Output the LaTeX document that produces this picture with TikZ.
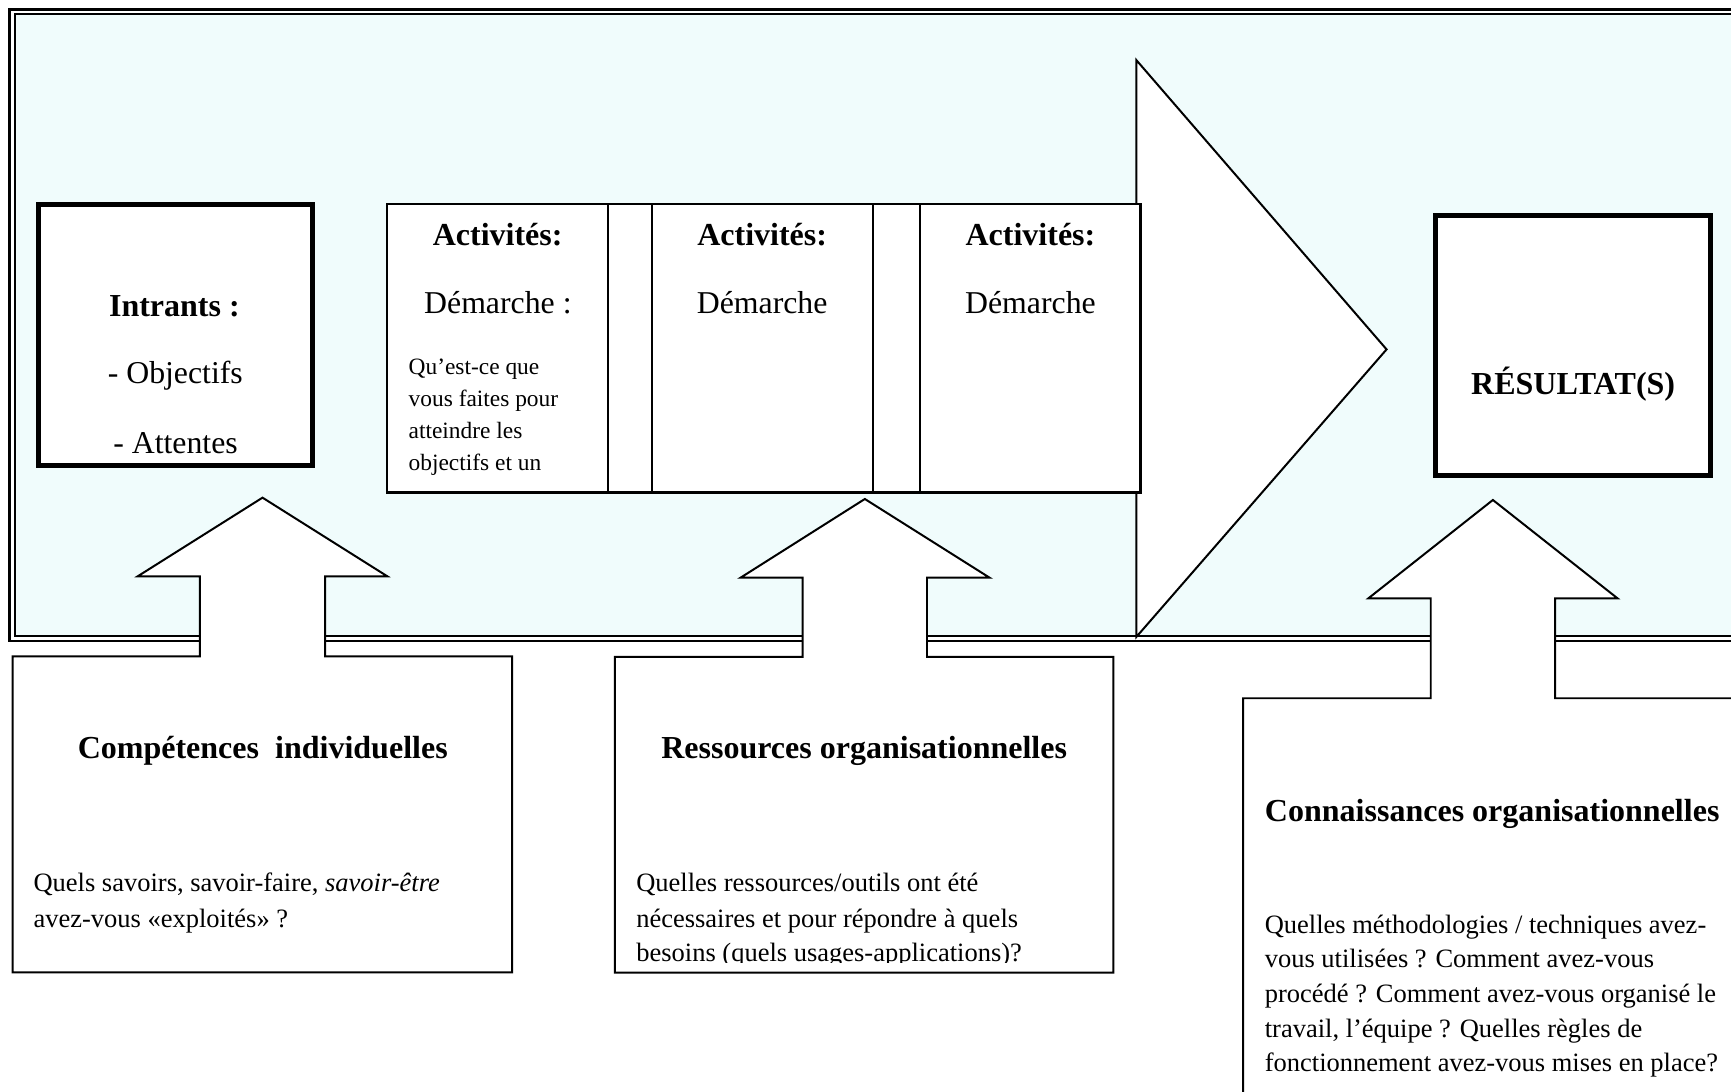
\documentclass[tikz,border=0pt]{standalone}
\usepackage{fontspec}
\setmainfont{Liberation Serif}
\definecolor{bgtint}{RGB}{240,252,252}
\begin{document}
\begin{tikzpicture}[x=0.5pt,y=-0.5pt,
  dblouter/.style={line width=1.2pt},
  dblinner/.style={line width=0.9pt},
  thick box/.style={draw,line width=2.25pt,fill=white},
  thin shape/.style={draw,line width=0.9pt,fill=white,line join=miter},
  act box/.style={draw,line width=1.1pt,fill=white},
  divider/.style={line width=0.9pt},
  ttl/.style={font=\fontsize{14.5}{16}\selectfont\bfseries,inner sep=0pt,anchor=base},
  big/.style={font=\fontsize{14.4}{16}\selectfont,inner sep=0pt,anchor=base},
  body/.style={font=\fontsize{12}{14}\selectfont,inner sep=0pt,anchor=base west},
  small/.style={font=\fontsize{10.6}{13}\selectfont,inner sep=0pt,anchor=base west}]
\useasboundingbox (0,0) rectangle (1568,989);
\clip (0,0) rectangle (1568,989);
% tinted frame with double border
\fill[bgtint] (13.9,13) rectangle (1600,575.8);
\draw[dblouter] (1600,8.5) -- (8.7,8.5) -- (8.7,580.5) -- (1600,580.5);
\draw[dblinner] (1600,13) -- (13.9,13) -- (13.9,575.8) -- (1600,575.8);
% big process arrow head
\draw[thin shape] (1029.3,54.4) -- (1256,316.5) -- (1029.3,577) -- cycle;
% activities box
\draw[act box] (350.5,184.8) rectangle (1033,446.3);
\draw[divider] (551.1,184.8) -- (551.1,446.3);
\draw[divider] (590.3,184.8) -- (590.3,446.3);
\draw[divider] (790.4,184.8) -- (790.4,446.3);
\draw[divider] (833.7,184.8) -- (833.7,446.3);
% intrants and result boxes
\draw[thick box] (34.5,185) rectangle (283,422);
\draw[thick box] (1300.3,195.3) rectangle (1549.7,430.7);
% callouts with up arrows
\draw[thin shape] (11.5,594.5) -- (181,594.5) -- (181,522) -- (124.8,522) -- (237.8,450.8) -- (350.8,522) -- (294.4,522) -- (294.4,594.5) -- (464,594.5) -- (464,880.7) -- (11.5,880.7) -- cycle;
\draw[thin shape] (557,595) -- (727,595) -- (727,523.3) -- (670.8,523.3) -- (783.4,452) -- (896.4,523.3) -- (839.7,523.3) -- (839.7,595) -- (1008.5,595) -- (1008.5,881) -- (557,881) -- cycle;
\draw[thin shape] (1126,632.5) -- (1296,632.5) -- (1296,542) -- (1239.5,542) -- (1352.3,452.9) -- (1465.2,542) -- (1408.6,542) -- (1408.6,632.5) -- (1620,632.5) -- (1620,1020) -- (1126,1020) -- cycle;
% texts: intrants
\node[ttl] (intr) at (158,286.9) {Intrants :};
\node[big] (obj) at (158.8,347) {- Objectifs};
\node[big] (att) at (159,410.6) {- Attentes};
% texts: activities
\node[ttl] (act1) at (450.8,222) {Activités:};
\node[ttl] (act2) at (690.4,222) {Activités:};
\node[ttl] (act3) at (933.4,222) {Activités:};
\node[big] (dem1) at (451,283.8) {Démarche :};
\node[big] (dem2) at (690.4,283.8) {Démarche};
\node[big] (dem3) at (933.4,283.8) {Démarche};
\node[small] (q1) at (369.8,339) {Qu’est-ce que};
\node[small] (q2) at (369.8,368) {vous faites pour};
\node[small] (q3) at (369.8,397) {atteindre les};
\node[small] (q4) at (369.8,425.8) {objectifs et un};
% result
\node[ttl] (res) at (1425,357.8) {RÉSULTAT(S)};
% callout 1
\node[ttl] (comp) at (238,687) {Compétences~ individuelles};
\node[body] (comp1) at (30,807.5) {Quels savoirs, savoir-faire, \textit{savoir-être}};
\node[body] (comp2) at (30,840) {avez-vous «exploités» ?};
% callout 2
\node[ttl] (ress) at (782.8,687) {Ressources organisationnelles};
\node[body] (ress1) at (576,807.7) {Quelles ressources/outils ont été};
\node[body] (ress2) at (576,840) {nécessaires et pour répondre à quels};
\begin{scope}
\clip (560,850) rectangle (1005,872);
\node[body] (ress3) at (576,871) {besoins (quels usages-applications)?};
\end{scope}
% callout 3
\node[ttl] (conn) at (1351.7,744.3) {Connaissances organisationnelles};
\node[body] (conn1) at (1145.3,845.4) {Quelles méthodologies / techniques avez-};
\node[body] (conn2) at (1145.3,876.8) {vous utilisées ? Comment avez-vous};
\node[body] (conn3) at (1145.3,908.1) {procédé ? Comment avez-vous organisé le};
\node[body] (conn4) at (1145.3,939.5) {travail, l’équipe ? Quelles règles de};
\node[body] (conn5) at (1145.3,970.8) {fonctionnement avez-vous mises en place?};
\end{tikzpicture}
\end{document}
